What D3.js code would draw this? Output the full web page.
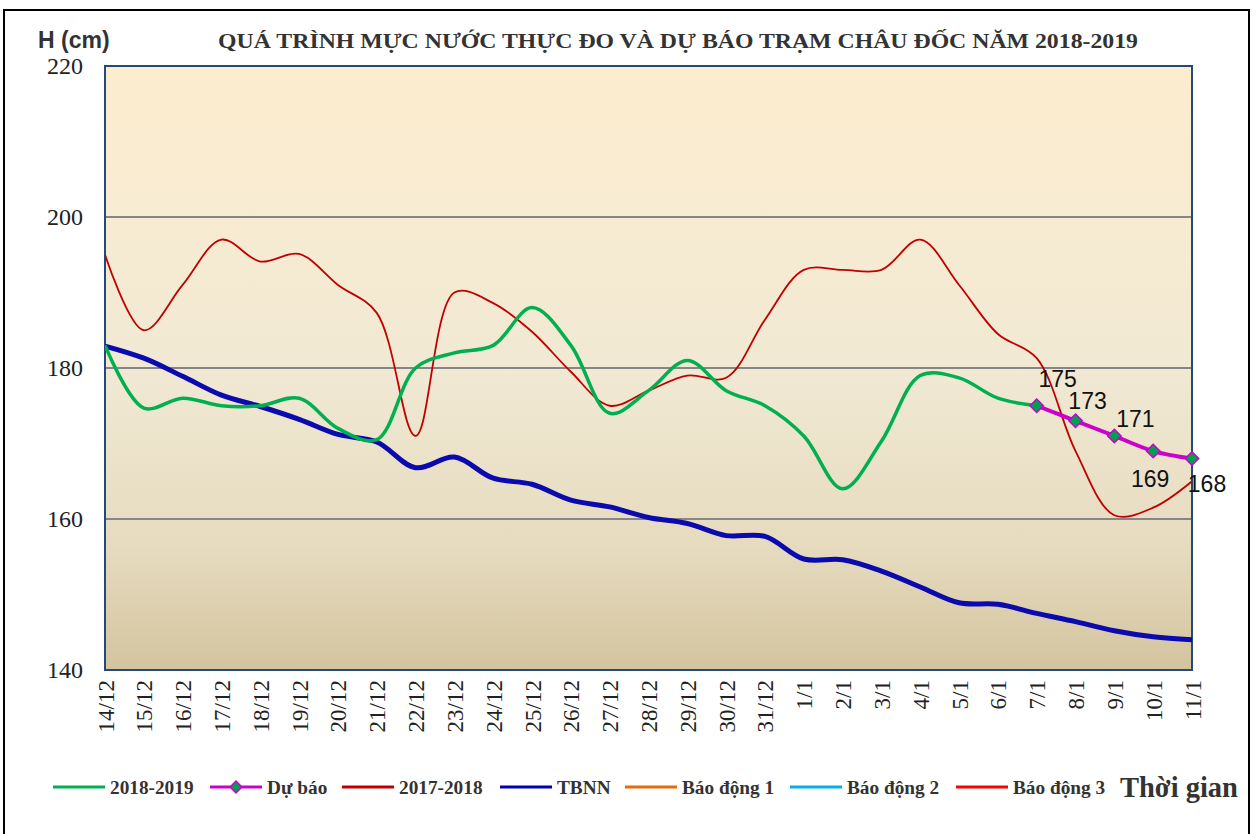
<!DOCTYPE html>
<html>
<head>
<meta charset="utf-8">
<script src="https://cdn.jsdelivr.net/npm/d3@7"></script>
<style>
html,body{margin:0;padding:0;background:#fff;}
svg{display:block;}
</style>
</head>
<body>
<svg id="chart" width="1256" height="834"></svg>
<script>
const categories = ["14/12","15/12","16/12","17/12","18/12","19/12","20/12","21/12","22/12","23/12","24/12","25/12","26/12","27/12","28/12","29/12","30/12","31/12","1/1","2/1","3/1","4/1","5/1","6/1","7/1","8/1","9/1","10/1","11/1"];
const s2018_2019 = [183,174.7,176,175,175,176,172,170.5,180,182,183,188,183,174,177,181,177,175,171,164,170.3,179,178.7,176,175];
const forecastCats = ["7/1","8/1","9/1","10/1","11/1"];
const forecast = [175,173,171,169,168];
const s2017_2018 = [195,185,191,197,194.1,195.1,191,187.3,171,190,188.6,184.8,179.5,175,177,179,178.7,186.4,193,193,193,197,191,184.5,181.3,169,160.5,161.5,165];
const tbnn = [182.9,181.3,178.9,176.4,174.9,173.2,171.2,170.2,166.8,168.2,165.4,164.6,162.5,161.6,160.2,159.4,157.8,157.7,154.7,154.6,153.1,151.0,148.9,148.7,147.5,146.4,145.2,144.4,144.0];
const alarmLevels = [350, 400, 450];
const yTicks = [140,160,180,200,220];
const legendNames = ["2018-2019","Dự báo","2017-2018","TBNN","Báo động 1","Báo động 2","Báo động 3"];
const legendColors = ["#00b050","#cc00cc","#c00000","#0000b4","#e46c0a","#00b0f0","#ff0000"];

const svg = d3.select("#chart");
const m = {left:105, right:1192, top:66, bottom:670};

const x = d3.scalePoint().domain(categories).range([m.left, m.right]);
const y = d3.scaleLinear().domain([140,220]).range([m.bottom, m.top]);

// outer frame
svg.append("rect").attr("x",4).attr("y",10).attr("width",1245).attr("height",840)
  .attr("fill","#fff").attr("stroke","#000").attr("stroke-width",2);

const defs = svg.append("defs");
const grad = defs.append("linearGradient").attr("id","bg").attr("x1",0).attr("y1",0).attr("x2",0).attr("y2",1);
grad.append("stop").attr("offset","0%").attr("stop-color","#fdedcf");
grad.append("stop").attr("offset","50%").attr("stop-color","#f1e9d4");
grad.append("stop").attr("offset","80%").attr("stop-color","#e6dbbf");
grad.append("stop").attr("offset","100%").attr("stop-color","#d3c49e");
defs.append("clipPath").attr("id","clip").append("rect")
  .attr("x",m.left).attr("y",m.top).attr("width",m.right-m.left).attr("height",m.bottom-m.top);

svg.append("rect").attr("x",m.left).attr("y",m.top).attr("width",m.right-m.left).attr("height",m.bottom-m.top)
  .attr("fill","url(#bg)");

// gridlines
svg.append("g").selectAll("line").data(yTicks.filter(d=>d>140 && d<220)).join("line")
  .attr("x1",m.left).attr("x2",m.right).attr("y1",d=>y(d)).attr("y2",d=>y(d))
  .attr("stroke","#868686").attr("stroke-width",2);

// plot border
svg.append("rect").attr("x",m.left).attr("y",m.top).attr("width",m.right-m.left).attr("height",m.bottom-m.top)
  .attr("fill","none").attr("stroke","#24497a").attr("stroke-width",2);

// y axis labels
const yAxis = d3.axisLeft(y).tickValues(yTicks).tickSize(0).tickPadding(22);
const gy = svg.append("g").attr("transform",`translate(${m.left},0)`).call(yAxis);
gy.select(".domain").remove();
gy.selectAll("text").attr("font-family","'Liberation Serif', serif").attr("font-size",24).attr("fill","#222");

// x axis labels
const xAxis = d3.axisBottom(x).tickSize(0).tickPadding(0);
const gx = svg.append("g").attr("transform",`translate(0,${m.bottom})`).call(xAxis);
gx.select(".domain").remove();
gx.selectAll("text")
  .attr("font-family","'Liberation Serif', serif").attr("font-size",23).attr("fill","#222")
  .attr("text-anchor","end").attr("dy",null).attr("y",0)
  .attr("transform","translate(8,10) rotate(-90)");

// lines
const plot = svg.append("g").attr("clip-path","url(#clip)");
const line = d3.line().x(d=>d[0]).y(d=>d[1]).curve(d3.curveCatmullRom.alpha(0.5));
function pts(cats, vals){ return vals.map((v,i)=>[x(cats[i]), y(v)]); }

alarmLevels.forEach((v,i)=>{
  plot.append("line").attr("x1",m.left).attr("x2",m.right).attr("y1",y(v)).attr("y2",y(v))
    .attr("stroke",legendColors[4+i]).attr("stroke-width",2.5);
});

plot.append("path").attr("d",line(pts(categories,s2017_2018))).attr("fill","none")
  .attr("stroke","#c00000").attr("stroke-width",1.8);
plot.append("path").attr("d",line(pts(categories,tbnn))).attr("fill","none")
  .attr("stroke","#0a0aae").attr("stroke-width",5);
plot.append("path").attr("d",line(pts(categories,s2018_2019))).attr("fill","none")
  .attr("stroke","#00b050").attr("stroke-width",3.5);

const fp = pts(forecastCats,forecast);
svg.append("path").attr("d",line(fp)).attr("fill","none")
  .attr("stroke","#cc00cc").attr("stroke-width",4);
svg.append("g").selectAll("path").data(fp).join("path")
  .attr("d",d3.symbol().type(d3.symbolSquare).size(90))
  .attr("transform",d=>`translate(${d[0]},${d[1]}) rotate(45)`)
  .attr("fill","#00a050").attr("stroke","#cc00cc").attr("stroke-width",1.5);

// data labels
const labelOffsets = [[21,-27],[12,-20],[21,-17],[-3,28],[15,25]];
svg.append("g").selectAll("text").data(fp).join("text")
  .attr("x",(d,i)=>d[0]+labelOffsets[i][0]).attr("y",(d,i)=>d[1]+labelOffsets[i][1]+8)
  .attr("text-anchor","middle").attr("font-family","'Liberation Sans', Arial, sans-serif")
  .attr("font-size",23).attr("fill","#111").text((d,i)=>forecast[i]);

// title
svg.append("text").attr("x",678).attr("y",48).attr("text-anchor","middle")
  .attr("font-family","'Liberation Serif', serif").attr("font-weight","bold").attr("font-size",22)
  .attr("textLength",920).attr("lengthAdjust","spacingAndGlyphs")
  .attr("fill","#333").text("QUÁ TRÌNH MỰC NƯỚC THỰC ĐO VÀ DỰ BÁO TRẠM CHÂU ĐỐC NĂM 2018-2019");

svg.append("text").attr("x",38).attr("y",48)
  .attr("font-family","'Liberation Sans', Arial, sans-serif").attr("font-weight","bold").attr("font-size",23)
  .attr("fill","#333").text("H (cm)");

// legend (item start positions are layout, not data)
const legendX = [53,210,342,500,625,790,956];
const lg = svg.append("g");
const ly = 787;
legendNames.forEach((name,i)=>{
  const lx = legendX[i];
  lg.append("line").attr("x1",lx).attr("x2",lx+52).attr("y1",ly).attr("y2",ly)
    .attr("stroke",legendColors[i]).attr("stroke-width",3);
  if(i===1){
    lg.append("path").attr("d",d3.symbol().type(d3.symbolSquare).size(70))
      .attr("transform",`translate(${lx+26},${ly}) rotate(45)`).attr("fill","#00a050").attr("stroke","#cc00cc").attr("stroke-width",1.5);
  }
  lg.append("text").attr("x",lx+57).attr("y",ly+7)
    .attr("font-family","'Liberation Serif', serif").attr("font-weight","bold").attr("font-size",19.3)
    .attr("fill","#333").text(name);
});
svg.append("text").attr("x",1120).attr("y",797)
  .attr("font-family","'Liberation Serif', serif").attr("font-weight","bold").attr("font-size",28.5)
  .attr("fill","#333").text("Thời gian");
</script>
</body>
</html>
